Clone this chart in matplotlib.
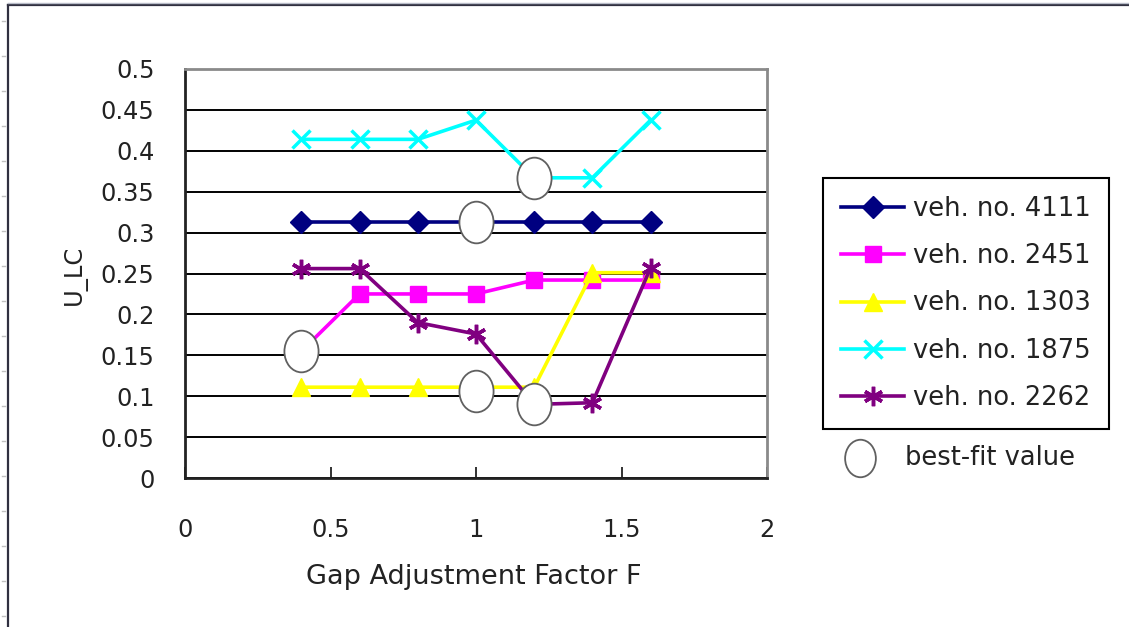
import matplotlib
matplotlib.use("Agg")
import matplotlib.pyplot as plt
from matplotlib.path import Path
from matplotlib.lines import Line2D
from matplotlib.transforms import Affine2D

# Gap adjustment factor F for every simulated run
gap_factor = [0.4, 0.6, 0.8, 1.0, 1.2, 1.4, 1.6]

# U_LC per vehicle
veh_4111 = [0.313, 0.313, 0.313, 0.313, 0.313, 0.313, 0.313]
veh_2451 = [0.155, 0.225, 0.225, 0.225, 0.242, 0.242, 0.242]
veh_1303 = [0.111, 0.111, 0.111, 0.111, 0.111, 0.251, 0.251]
veh_1875 = [0.414, 0.414, 0.414, 0.4375, 0.367, 0.367, 0.4375]
veh_2262 = [0.256, 0.256, 0.190, 0.176, 0.090, 0.092, 0.257]

# Best-fit value for each vehicle
best_fit_factor = [0.4, 1.0, 1.0, 1.2, 1.2]
best_fit_ulc = [0.155, 0.313, 0.106, 0.367, 0.090]

series_labels = ["veh. no. 4111", "veh. no. 2451", "veh. no. 1303",
                 "veh. no. 1875", "veh. no. 2262"]
best_fit_label = "best-fit value"

x_ticks = [0, 0.5, 1, 1.5, 2]
x_tick_labels = ["0", "0.5", "1", "1.5", "2"]
y_ticks = [0, 0.05, 0.1, 0.15, 0.2, 0.25, 0.3, 0.35, 0.4, 0.45, 0.5]
y_tick_labels = ["0", "0.05", "0.1", "0.15", "0.2", "0.25", "0.3",
                 "0.35", "0.4", "0.45", "0.5"]

plt.rcParams['font.family'] = ['DejaVu Sans']

TEXT = '#222222'
W, H = 1129, 627
fig = plt.figure(figsize=(W / 100, H / 100), dpi=100)
fig.patch.set_facecolor('white')

ax = fig.add_axes([185 / W, 1 - 478 / H, (767 - 185) / W, (478 - 69) / H])

# white ellipse used to mark the best-fit point
ellipse = Path.unit_circle().transformed(Affine2D().scale(0.82, 1.0))

styles = [
    dict(color='#000080', marker='D', ms=11),
    dict(color='#FF00FF', marker='s', ms=11),
    dict(color='#FFFF00', marker='^', ms=13),
    dict(color='#00FFFF', marker='x', ms=13, mew=2.5),
    dict(color='#800080', marker=(6, 2, 0), ms=14, mew=2.5),
]
series = [veh_4111, veh_2451, veh_1303, veh_1875, veh_2262]
handles = []
for vals, lab, st in zip(series, series_labels, styles):
    h, = ax.plot(gap_factor, vals, lw=2.6, label=lab, zorder=3, **st)
    handles.append(h)

ax.plot(best_fit_factor, best_fit_ulc, ls='none', marker=ellipse, ms=30,
        mfc='white', mec='#606060', mew=1.3, zorder=5)

ax.set_xlim(0, 2)
ax.set_ylim(0, 0.5)
ax.set_xticks(x_ticks)
ax.set_xticklabels(x_tick_labels)
ax.set_yticks(y_ticks)
ax.set_yticklabels(y_tick_labels)
ax.tick_params(axis='x', direction='in', length=8, width=1.3, pad=29,
               labelsize=17.3, colors=TEXT)
ax.tick_params(axis='y', length=0, pad=22, labelsize=17.3, colors=TEXT)

ax.yaxis.grid(True, color='black', lw=1.4)
ax.set_axisbelow(True)
for side in ('left', 'bottom'):
    ax.spines[side].set_color(TEXT)
    ax.spines[side].set_linewidth(2)
for side in ('top', 'right'):
    ax.spines[side].set_color('#8a8a8a')
    ax.spines[side].set_linewidth(2)

ax.set_xlabel("Gap Adjustment Factor F", fontsize=19.5, color=TEXT)
ax.set_ylabel("U_LC", fontsize=17.5, color=TEXT)
ax.xaxis.label.set_va('center')
ax.yaxis.label.set_va('center')
ax.xaxis.set_label_coords((474 - 185) / 582, (478 - 577) / 409)
ax.yaxis.set_label_coords((75 - 185) / 582, (478 - 275) / 409)

leg = fig.legend(handles=handles, loc='center',
                 bbox_to_anchor=((818 + 1114) / 2 / W, 1 - (180 + 427) / 2 / H),
                 frameon=True, fancybox=False, edgecolor='black', framealpha=1,
                 fontsize=18.5, handlelength=2.45, handletextpad=0.35,
                 labelspacing=0.82, borderpad=0.72, borderaxespad=0)
leg.get_frame().set_linewidth(1.5)
for t in leg.get_texts():
    t.set_color(TEXT)

# best-fit entry sits below the legend box
fig.add_artist(Line2D([860 / W], [1 - 458 / H], transform=fig.transFigure,
                      marker=ellipse, ms=27, mfc='white', mec='#606060', mew=1.3))
fig.text(905 / W, 1 - 458 / H, best_fit_label, fontsize=18.5, va='center',
         ha='left', color=TEXT)

# outer sheet frame
fig.add_artist(Line2D([8 / W, 8 / W], [0, 1 - 5 / H], transform=fig.transFigure,
                      color='#303040', lw=1.6))
fig.add_artist(Line2D([8 / W, 1], [1 - 5 / H, 1 - 5 / H], transform=fig.transFigure,
                      color='#303040', lw=1.6))
fig.add_artist(Line2D([8 / W, 1], [1 - 3 / H, 1 - 3 / H], transform=fig.transFigure,
                      color='#b8bcc8', lw=1.0))
for k in range(18):
    y = 21 + 35 * k
    if y > H:
        break
    fig.add_artist(Line2D([2 / W, 5 / W], [1 - y / H, 1 - y / H],
                          transform=fig.transFigure, color='#c0c0c0', lw=1))

fig.savefig("out.png", dpi=100, facecolor='white')
